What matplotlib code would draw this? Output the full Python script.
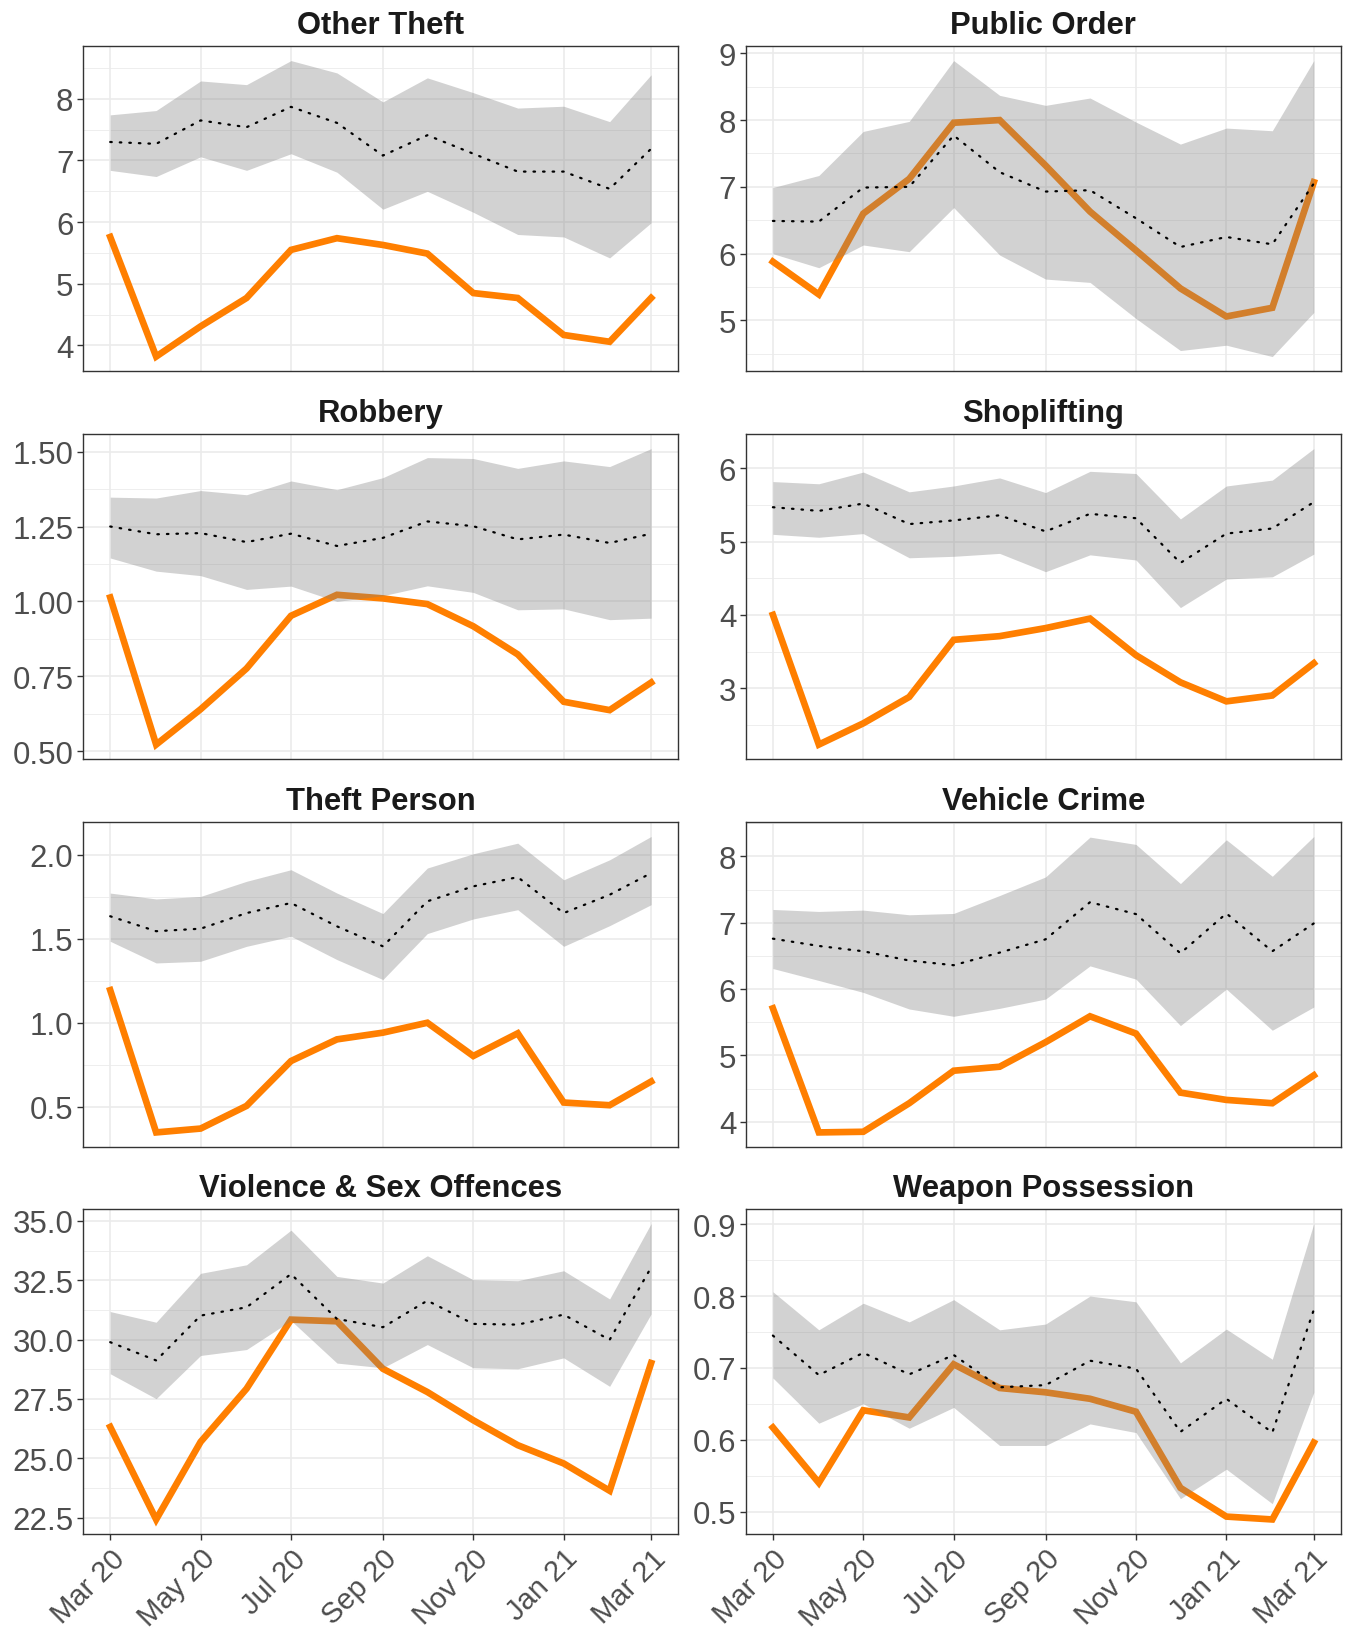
import matplotlib
matplotlib.use("Agg")
import matplotlib.pyplot as plt
from matplotlib.ticker import MultipleLocator, FormatStrFormatter
import pandas as pd

# monthly rates, observed (orange) vs forecast median (dotted) and interval (ribbon)
months = ["Mar 20", "Apr 20", "May 20", "Jun 20", "Jul 20", "Aug 20", "Sep 20",
          "Oct 20", "Nov 20", "Dec 20", "Jan 21", "Feb 21", "Mar 21"]

panels = ["Other Theft", "Public Order", "Robbery", "Shoplifting",
          "Theft Person", "Vehicle Crime", "Violence & Sex Offences", "Weapon Possession"]

other_theft_obs = [5.76, 3.82, 4.31, 4.77, 5.55, 5.74, 5.63, 5.49, 4.85, 4.77, 4.17, 4.06, 4.77]
other_theft_med = [7.30, 7.27, 7.65, 7.54, 7.87, 7.61, 7.08, 7.41, 7.11, 6.82, 6.82, 6.54, 7.19]
other_theft_lo = [6.84, 6.74, 7.06, 6.84, 7.11, 6.81, 6.21, 6.50, 6.16, 5.80, 5.76, 5.42, 5.99]
other_theft_hi = [7.74, 7.81, 8.29, 8.23, 8.62, 8.42, 7.95, 8.34, 8.10, 7.85, 7.88, 7.63, 8.39]

public_order_obs = [5.88, 5.39, 6.60, 7.12, 7.96, 8.00, 7.32, 6.63, 6.05, 5.48, 5.06, 5.19, 7.07]
public_order_med = [6.49, 6.48, 6.99, 7.00, 7.77, 7.22, 6.93, 6.95, 6.53, 6.10, 6.25, 6.14, 7.05]
public_order_lo = [6.00, 5.79, 6.13, 6.03, 6.69, 5.98, 5.62, 5.57, 5.03, 4.55, 4.63, 4.46, 5.12]
public_order_hi = [6.99, 7.17, 7.83, 7.98, 8.89, 8.37, 8.22, 8.33, 7.97, 7.64, 7.88, 7.84, 8.89]

robbery_obs = [1.013, 0.522, 0.640, 0.776, 0.952, 1.022, 1.010, 0.991, 0.917, 0.823, 0.665, 0.637, 0.729]
robbery_med = [1.250, 1.224, 1.228, 1.198, 1.226, 1.185, 1.212, 1.267, 1.251, 1.207, 1.223, 1.195, 1.226]
robbery_lo = [1.145, 1.101, 1.086, 1.040, 1.051, 1.000, 1.019, 1.052, 1.030, 0.972, 0.975, 0.939, 0.944]
robbery_hi = [1.348, 1.345, 1.370, 1.356, 1.402, 1.373, 1.413, 1.480, 1.477, 1.444, 1.469, 1.450, 1.510]

shoplifting_obs = [4.00, 2.23, 2.52, 2.88, 3.66, 3.71, 3.82, 3.95, 3.45, 3.08, 2.82, 2.90, 3.34]
shoplifting_med = [5.47, 5.42, 5.52, 5.24, 5.29, 5.36, 5.14, 5.38, 5.32, 4.71, 5.11, 5.18, 5.54]
shoplifting_lo = [5.10, 5.06, 5.11, 4.78, 4.80, 4.84, 4.59, 4.82, 4.75, 4.10, 4.49, 4.52, 4.83]
shoplifting_hi = [5.82, 5.79, 5.95, 5.68, 5.76, 5.87, 5.67, 5.96, 5.93, 5.31, 5.76, 5.84, 6.27]

theft_person_obs = [1.194, 0.347, 0.370, 0.505, 0.772, 0.901, 0.941, 1.000, 0.802, 0.937, 0.525, 0.509, 0.650]
theft_person_med = [1.634, 1.545, 1.560, 1.653, 1.713, 1.574, 1.455, 1.723, 1.812, 1.867, 1.653, 1.762, 1.891]
theft_person_lo = [1.485, 1.356, 1.366, 1.455, 1.515, 1.376, 1.257, 1.531, 1.618, 1.673, 1.455, 1.578, 1.703]
theft_person_hi = [1.772, 1.737, 1.752, 1.842, 1.911, 1.772, 1.650, 1.921, 2.006, 2.069, 1.851, 1.970, 2.109]

vehicle_obs = [5.71, 3.84, 3.85, 4.28, 4.77, 4.83, 5.20, 5.59, 5.33, 4.44, 4.33, 4.28, 4.70]
vehicle_med = [6.76, 6.65, 6.57, 6.43, 6.36, 6.55, 6.75, 7.31, 7.13, 6.54, 7.14, 6.57, 6.99]
vehicle_lo = [6.31, 6.13, 5.95, 5.70, 5.59, 5.71, 5.85, 6.35, 6.15, 5.45, 6.00, 5.38, 5.73]
vehicle_hi = [7.20, 7.17, 7.19, 7.12, 7.14, 7.41, 7.69, 8.29, 8.18, 7.59, 8.25, 7.70, 8.30]

violence_obs = [26.32, 22.42, 25.69, 27.93, 30.84, 30.77, 28.77, 27.79, 26.60, 25.55, 24.78, 23.63, 29.01]
violence_med = [29.89, 29.12, 31.01, 31.36, 32.76, 30.87, 30.52, 31.64, 30.66, 30.63, 31.05, 29.99, 33.04]
violence_lo = [28.56, 27.51, 29.33, 29.58, 30.80, 29.01, 28.81, 29.79, 28.81, 28.77, 29.23, 28.03, 31.08]
violence_hi = [31.18, 30.73, 32.79, 33.15, 34.61, 32.66, 32.38, 33.53, 32.52, 32.48, 32.90, 31.71, 34.89]

weapon_obs = [0.617, 0.540, 0.641, 0.631, 0.705, 0.672, 0.666, 0.657, 0.639, 0.533, 0.493, 0.489, 0.596]
weapon_med = [0.745, 0.690, 0.721, 0.691, 0.718, 0.673, 0.676, 0.710, 0.699, 0.611, 0.657, 0.610, 0.781]
weapon_lo = [0.686, 0.623, 0.650, 0.616, 0.645, 0.592, 0.592, 0.622, 0.610, 0.518, 0.559, 0.511, 0.666]
weapon_hi = [0.806, 0.753, 0.790, 0.764, 0.795, 0.753, 0.761, 0.800, 0.792, 0.707, 0.754, 0.712, 0.901]

series = [
    (other_theft_obs, other_theft_med, other_theft_lo, other_theft_hi),
    (public_order_obs, public_order_med, public_order_lo, public_order_hi),
    (robbery_obs, robbery_med, robbery_lo, robbery_hi),
    (shoplifting_obs, shoplifting_med, shoplifting_lo, shoplifting_hi),
    (theft_person_obs, theft_person_med, theft_person_lo, theft_person_hi),
    (vehicle_obs, vehicle_med, vehicle_lo, vehicle_hi),
    (violence_obs, violence_med, violence_lo, violence_hi),
    (weapon_obs, weapon_med, weapon_lo, weapon_hi),
]

# y tick step and label format per panel
y_steps = [1, 1, 0.25, 1, 0.5, 1, 2.5, 0.1]
y_fmts = ["%.0f", "%.0f", "%.2f", "%.0f", "%.1f", "%.0f", "%.1f", "%.1f"]

dates = pd.date_range("2020-03-01", periods=len(months), freq="MS")

plt.rcParams["font.family"] = ["Liberation Sans", "DejaVu Sans"]

fig = plt.figure(figsize=(13.48, 16.31), dpi=100)
lefts = [0.0617, 0.5533]
bottoms = [0.7717, 0.5338, 0.2960, 0.0587]
w, h = 0.4414, 0.1996

span = dates[-1] - dates[0]
for i, name in enumerate(panels):
    r, c = divmod(i, 2)
    obs, med, lo, hi = series[i]
    ax = fig.add_axes([lefts[c], bottoms[r], w, h])
    ax.set_axisbelow(True)

    ax.plot(dates, obs, color="#FF7F00", lw=4.8, solid_joinstyle="miter", zorder=2)
    ax.fill_between(dates, lo, hi, color="#7F7F7F", alpha=0.35, lw=0, zorder=3)
    ax.plot(dates, med, color="black", lw=1.6, linestyle=(0, (0.7, 3.6)),
            dash_capstyle="round", zorder=4)

    ymin = min(min(obs), min(lo))
    ymax = max(max(obs), max(hi))
    pad = (ymax - ymin) * 0.05
    ax.set_ylim(ymin - pad, ymax + pad)
    ax.set_xlim(dates[0] - span * 0.05, dates[-1] + span * 0.05)

    ax.yaxis.set_major_locator(MultipleLocator(y_steps[i]))
    ax.yaxis.set_minor_locator(MultipleLocator(y_steps[i] / 2))
    ax.yaxis.set_major_formatter(FormatStrFormatter(y_fmts[i]))
    ax.set_xticks(dates[::2])
    ax.set_xticks([], minor=True)

    ax.grid(which="major", color="#EBEBEB", lw=1.2)
    ax.grid(which="minor", axis="y", color="#EBEBEB", lw=0.6)

    ax.tick_params(axis="y", which="major", labelsize=22.5, labelcolor="#4D4D4D",
                   color="#333333", length=4, width=1, pad=3)
    ax.tick_params(axis="y", which="minor", length=0)
    if r == 3:
        ax.set_xticklabels(months[::2], rotation=45, ha="right", va="top",
                           rotation_mode="anchor")
        ax.tick_params(axis="x", labelsize=21, labelcolor="#4D4D4D",
                       color="#333333", length=4, width=1, pad=3)
    else:
        ax.tick_params(axis="x", length=0, labelbottom=False)

    for sp in ax.spines.values():
        sp.set_color("#333333")
        sp.set_linewidth(1.0)

    ax.set_title(name, fontsize=22.3, fontweight="bold", color="#1A1A1A", pad=9)

fig.savefig("out.png", dpi=100)
